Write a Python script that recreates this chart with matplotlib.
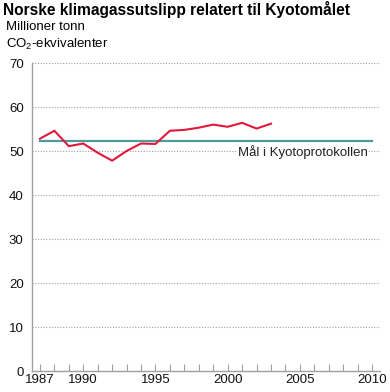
import numpy as np
import matplotlib
matplotlib.use("Agg")
import matplotlib.pyplot as plt

plt.rcParams['font.family'] = ['Liberation Sans', 'DejaVu Sans']
plt.rcParams['mathtext.fontset'] = 'custom'
plt.rcParams['mathtext.rm'] = 'Liberation Sans'
plt.rcParams['mathtext.it'] = 'Liberation Sans:italic'

# data
years = np.arange(1987, 2004)
utslipp = [52.8, 54.6, 51.1, 51.7, 49.6, 47.8, 50.0, 51.7, 51.6, 54.6,
           54.8, 55.3, 56.0, 55.5, 56.4, 55.1, 56.2]
kyoto_maal = 52.3
kyoto_years = [1987, 2010]
xticks_labeled = [1987, 1990, 1995, 2000, 2005, 2010]

fig = plt.figure(figsize=(3.9, 3.92), dpi=100)
ax = fig.add_axes([32 / 390, 21 / 392, 348 / 390, 308 / 392])

ax.set_xlim(1986.45, 2010.55)
ax.set_ylim(0, 70)

# grid
ax.set_yticks(np.arange(0, 71, 10))
ax.yaxis.grid(True, color='#a0a0a0', linestyle=(0, (1, 1.5)), linewidth=0.8)
ax.set_axisbelow(True)

ax.plot(kyoto_years, [kyoto_maal, kyoto_maal], color='#4e9b9b', linewidth=1.6, zorder=3)
ax.plot(years, utslipp, color='#e0193c', linewidth=1.5, zorder=4)

ax.text(2009.7, kyoto_maal - 1.0, 'Mål i Kyotoprotokollen', ha='right', va='top',
        fontsize=9.5, color='#222222', zorder=5,
        bbox=dict(facecolor='white', edgecolor='none', pad=0.5))

for s in ['top', 'right']:
    ax.spines[s].set_visible(False)
for s in ['left', 'bottom']:
    ax.spines[s].set_color('#a0a0a0')
    ax.spines[s].set_linewidth(1.0)

ax.set_xticks(np.arange(1987, 2011), minor=False)
ax.set_xticklabels([str(y) if y in xticks_labeled else '' for y in range(1987, 2011)])
ax.tick_params(axis='x', direction='in', length=5, color='#a0a0a0', pad=2,
               labelsize=9.5, labelcolor='#111111')
ax.tick_params(axis='y', length=0, pad=6, labelsize=9.5, labelcolor='#111111')

fig.text(3 / 390, 1 - 10 / 392, 'Norske klimagassutslipp relatert til Kyotomålet',
         fontsize=11.2, fontweight='bold', va='center', ha='left')
fig.text(6 / 390, 1 - 27 / 392, 'Millioner tonn', fontsize=9.5, va='center', ha='left')
fig.text(6 / 390, 1 - 44 / 392, 'CO$_2$-ekvivalenter', fontsize=9.5, va='center', ha='left')

fig.savefig('out.png', dpi=100)
